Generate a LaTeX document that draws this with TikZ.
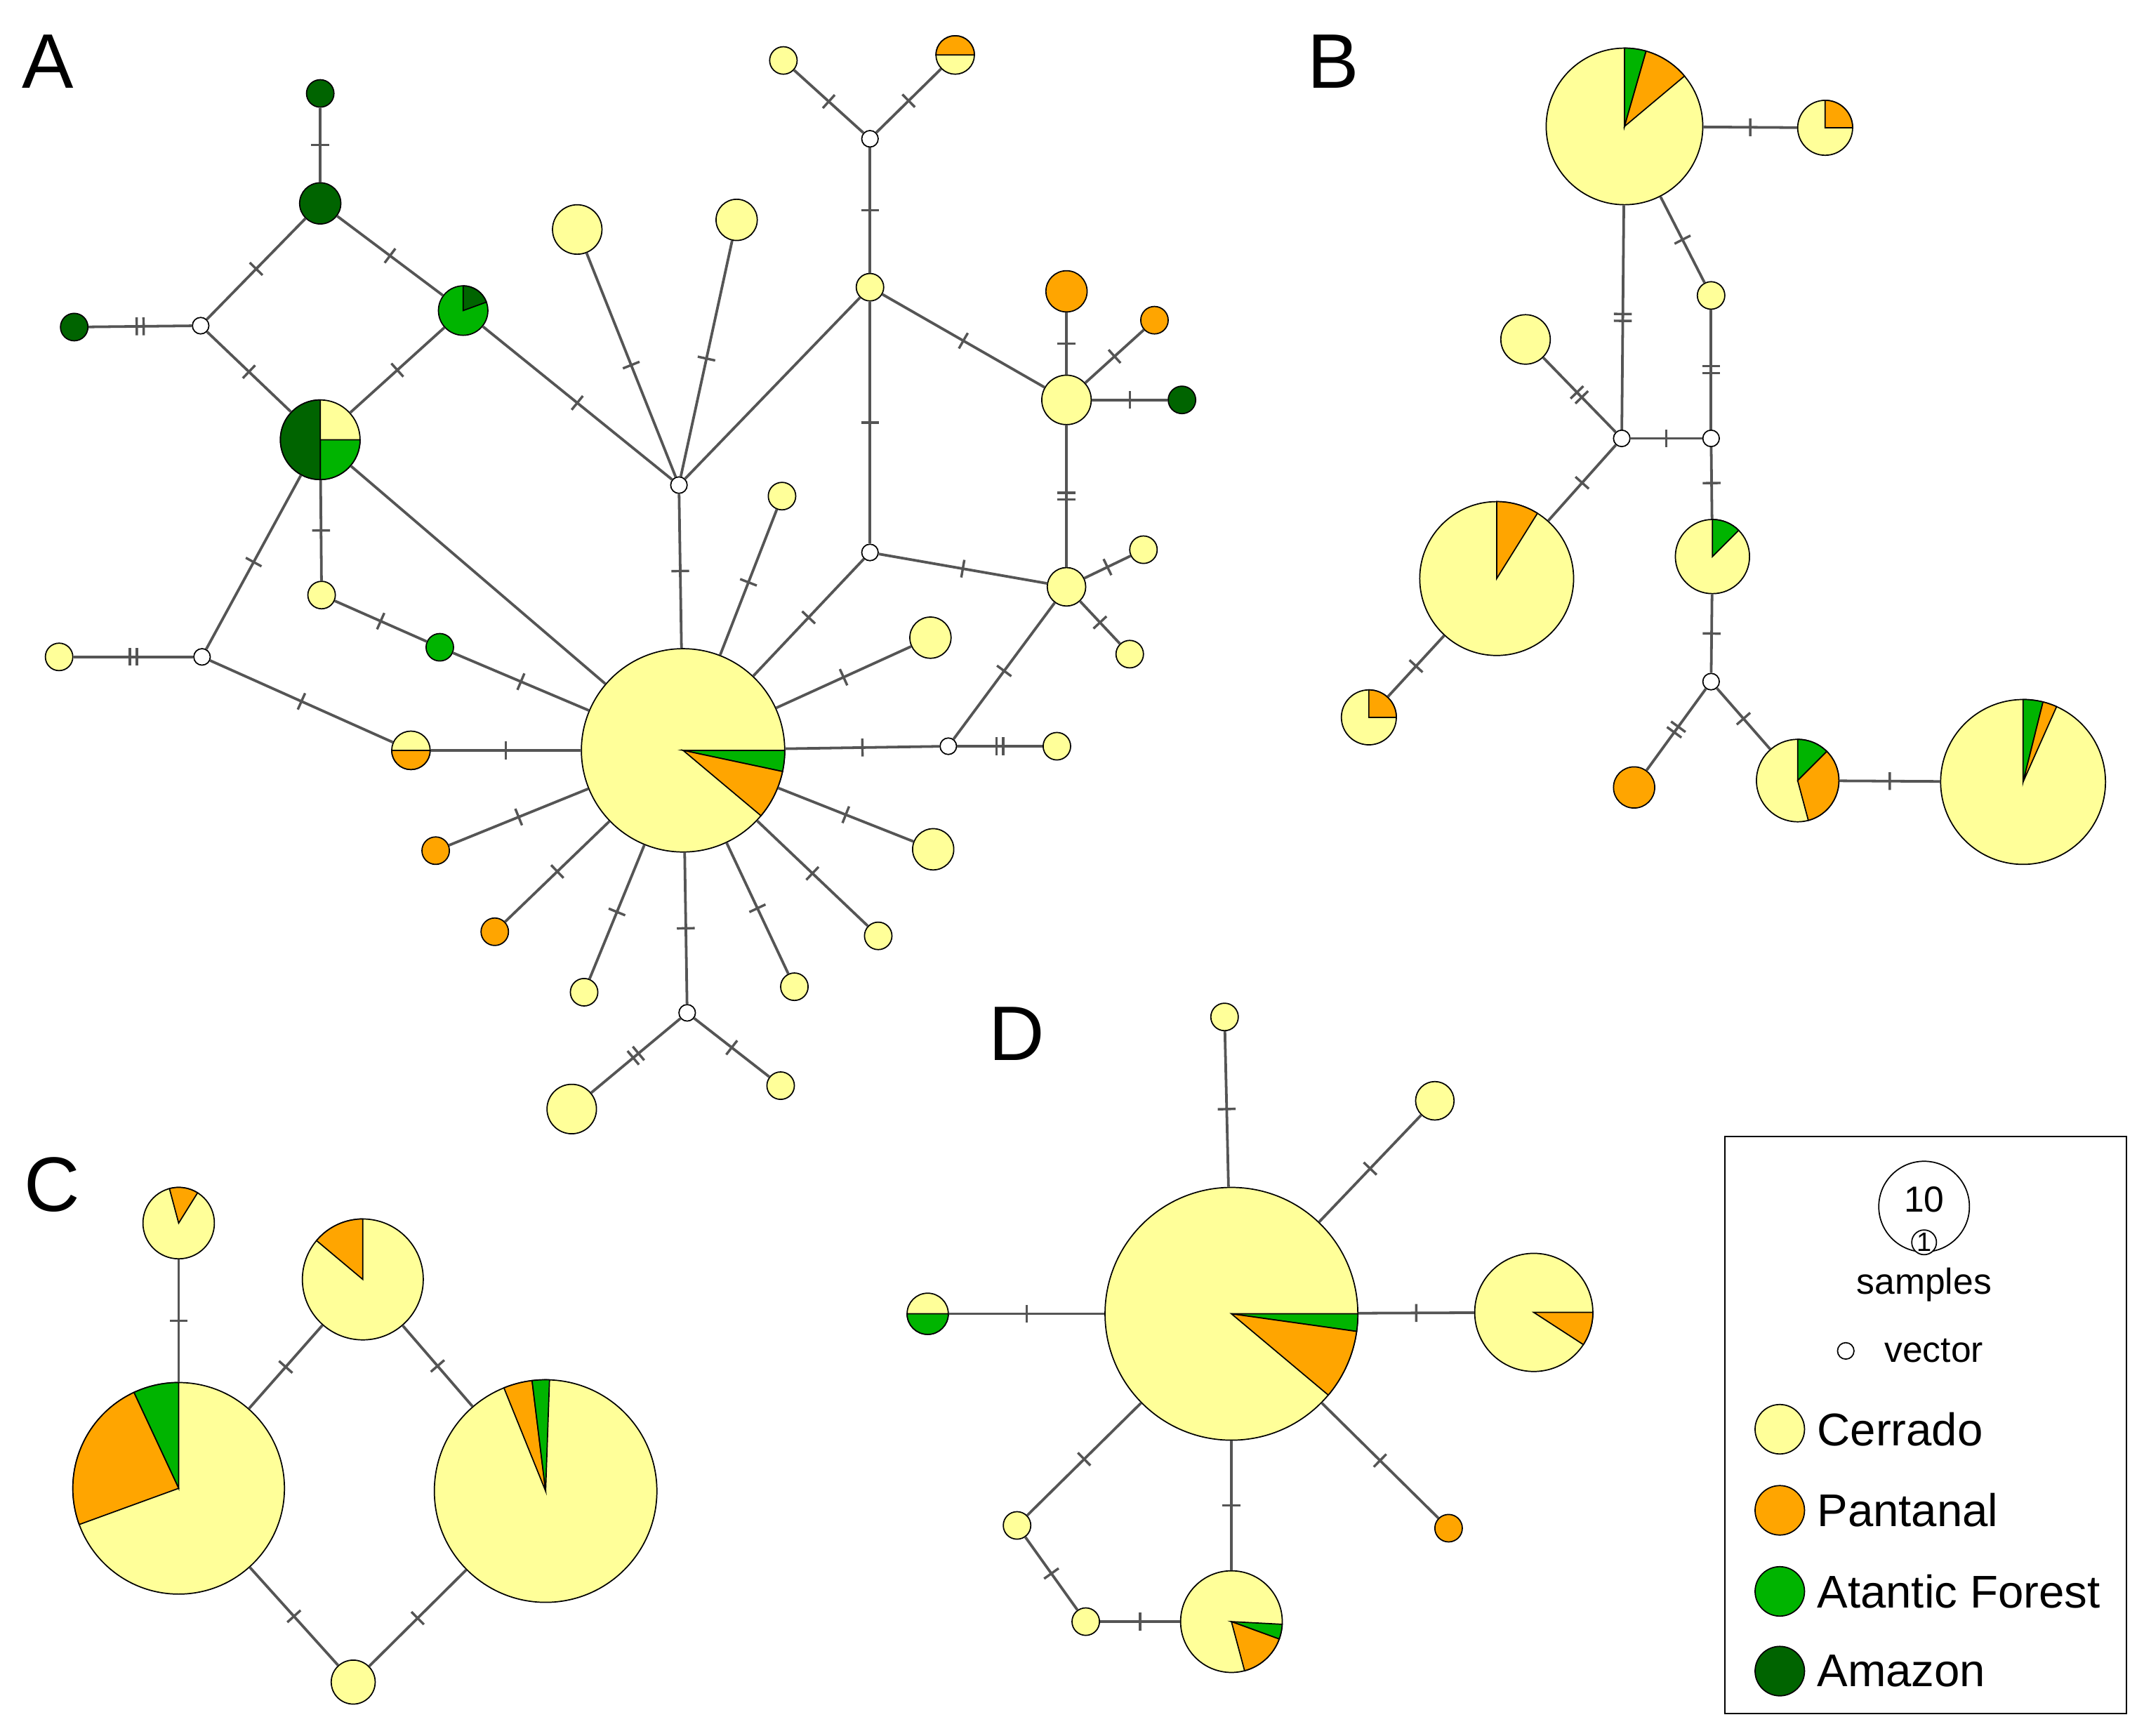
\documentclass[tikz,border=0pt]{standalone}
\usepackage{fontspec}
\setmainfont{Liberation Sans}
\usetikzlibrary{decorations.markings}
\definecolor{cer}{RGB}{255,255,153}
\definecolor{pan}{RGB}{255,165,0}
\definecolor{atl}{RGB}{0,180,0}
\definecolor{amz}{RGB}{0,100,0}
\definecolor{edgegray}{RGB}{85,85,85}
% wedge of a pie: node, radius, start, end, colour
\newcommand{\pieslice}[5]{\filldraw[#5,draw=black,line width=0.5pt] (#1.center) -- ++(#3:#2*0.02cm) arc[start angle=#3,end angle=#4,radius=#2*0.02cm] -- cycle;}
\begin{document}
\begin{tikzpicture}
[
	x = 0.02cm, y = 0.02cm,
	   hap/.style = { circle, draw=black, line width=0.5pt, fill=cer, inner sep=0pt, minimum size=#1*0.04cm },
	   hap/.default = 10,
	   vec/.style = { circle, draw=black, line width=0.5pt, fill=white, inner sep=0pt, minimum size=0.24cm },
	  link/.style = { draw=edgegray, line width=1.1pt },
	    m1/.style = { link, postaction={decorate}, decoration={markings, mark=at position 0.5 with {\draw[edgegray,line width=1pt] (0,-0.13cm) -- (0,0.13cm);}} },
	    m2/.style = { link, postaction={decorate}, decoration={markings, mark=at position 0.5 with {\draw[edgegray,line width=1pt] (-0.05cm,-0.13cm) -- (-0.05cm,0.13cm) (0.05cm,-0.13cm) -- (0.05cm,0.13cm);}} },
	 panel/.style = { font=\fontsize{32}{36}\selectfont },
	legtxt/.style = { font=\fontsize{19}{22}\selectfont, anchor=west }
]
	\useasboundingbox (0,0) rectangle (1560,-1263);

	% panel A
	% nodes
	\node[panel] (LA) at (35,-45) {A};
	\node[hap,fill=amz] (a1) at (233,-68) {};
	\node[hap=15,fill=amz] (a2) at (233,-148) {};
	\node[vec] (av1) at (146,-237) {};
	\node[hap,fill=amz] (a3) at (54,-238) {};
	\node[hap=18,fill=atl] (a4) at (337,-226) {};
	\node[hap=29] (a5) at (233,-320) {};
	\node[hap] (a6) at (234,-433) {};
	\node[hap,fill=atl] (a7) at (320,-471) {};
	\node[vec] (av2) at (147,-478) {};
	\node[hap] (a8) at (43,-478) {};
	\node[hap=14] (a9) at (299,-546) {};
	\node[hap=74] (ac) at (497,-546) {};
	\node[vec] (av3) at (494,-353) {};
	\node[hap=18] (a10) at (420,-167) {};
	\node[hap=15] (a11) at (536,-160) {};
	\node[vec] (av4) at (633,-101) {};
	\node[hap] (a12) at (570,-44) {};
	\node[hap=14] (a13) at (695,-40) {};
	\node[hap] (a14) at (633,-209) {};
	\node[vec] (av6) at (633,-402) {};
	\node[hap=18] (a15) at (776,-291) {};
	\node[hap=15,fill=pan] (a16) at (776,-212) {};
	\node[hap,fill=pan] (a17) at (840,-233) {};
	\node[hap,fill=amz] (a18) at (860,-291) {};
	\node[hap=14] (a19) at (776,-427) {};
	\node[hap] (a20) at (832,-400) {};
	\node[hap] (a21) at (822,-476) {};
	\node[vec] (av7) at (690,-543) {};
	\node[hap] (a22) at (769,-543) {};
	\node[hap] (a23) at (569,-361) {};
	\node[hap=15] (a24) at (677,-464) {};
	\node[hap=15] (a25) at (679,-618) {};
	\node[hap] (a26) at (639,-681) {};
	\node[hap] (a27) at (578,-718) {};
	\node[vec] (av8) at (500,-737) {};
	\node[hap] (a28) at (568,-790) {};
	\node[hap=18] (a29) at (416,-807) {};
	\node[hap] (a30) at (425,-722) {};
	\node[hap,fill=pan] (a31) at (360,-678) {};
	\node[hap,fill=pan] (a32) at (317,-619) {};

	% pies
	\pieslice{a4}{18}{90}{20}{amz}
	\pieslice{a5}{29}{0}{-90}{atl}
	\pieslice{a5}{29}{90}{270}{amz}
	\pieslice{a9}{14}{180}{360}{pan}
	\pieslice{ac}{74}{0}{-12}{atl}
	\pieslice{ac}{74}{-12}{-40}{pan}
	\pieslice{a13}{14}{0}{180}{pan}

	% edges
	\path (a1) edge[m1] (a2) (a2) edge[m1] (av1) (a2) edge[m1] (a4)
		(av1) edge[m2] (a3) (av1) edge[m1] (a5) (a4) edge[m1] (a5)
		(a4) edge[m1] (av3) (a5) edge[m1] (a6) (a5) edge[link] (ac)
		(a5) edge[m1] (av2) (av2) edge[m2] (a8) (av2) edge[m1] (a9)
		(a9) edge[m1] (ac) (a6) edge[m1] (a7) (a7) edge[m1] (ac)
		(av3) edge[m1] (a10) (av3) edge[m1] (a11) (av3) edge[link] (a14)
		(av3) edge[m1] (ac) (av4) edge[m1] (a12) (av4) edge[m1] (a13)
		(av4) edge[m1] (a14) (a14) edge[m1] (av6) (a14) edge[m1] (a15)
		(a15) edge[m1] (a16) (a15) edge[m1] (a17) (a15) edge[m1] (a18)
		(a15) edge[m2] (a19) (a19) edge[m1] (a20) (a19) edge[m1] (a21)
		(a19) edge[m1] (av7) (av6) edge[m1] (ac) (av6) edge[m1] (a19)
		(av7) edge[m1] (ac) (av7) edge[m2] (a22) (ac) edge[m1] (a23)
		(ac) edge[m1] (a24) (ac) edge[m1] (a25) (ac) edge[m1] (a26)
		(ac) edge[m1] (a27) (ac) edge[m1] (av8) (av8) edge[m1] (a28)
		(av8) edge[m2] (a29) (ac) edge[m1] (a30) (ac) edge[m1] (a31)
		(ac) edge[m1] (a32);

	% panel B
	% nodes
	\node[panel] (LB) at (970,-45) {B};
	\node[hap=57] (b1) at (1182,-92) {};
	\node[hap=20] (b2) at (1328,-93) {};
	\node[hap] (b3) at (1245,-215) {};
	\node[hap=18] (b4) at (1110,-247) {};
	\node[vec] (bv1) at (1180,-319) {};
	\node[vec] (bv2) at (1245,-319) {};
	\node[hap=56] (b5) at (1089,-421) {};
	\node[hap=27] (b6) at (1246,-405) {};
	\node[vec] (bv3) at (1245,-496) {};
	\node[hap=20] (b7) at (996,-522) {};
	\node[hap=15,fill=pan] (b8) at (1189,-573) {};
	\node[hap=30] (b9) at (1308,-568) {};
	\node[hap=60] (b10) at (1472,-569) {};

	% pies
	\pieslice{b1}{57}{90}{74}{atl}
	\pieslice{b1}{57}{74}{40}{pan}
	\pieslice{b2}{20}{90}{0}{pan}
	\pieslice{b5}{56}{90}{58}{pan}
	\pieslice{b6}{27}{90}{45}{atl}
	\pieslice{b7}{20}{90}{0}{pan}
	\pieslice{b9}{30}{90}{45}{atl}
	\pieslice{b9}{30}{45}{-75}{pan}
	\pieslice{b10}{60}{90}{76}{atl}
	\pieslice{b10}{60}{76}{66}{pan}

	% edges
	\path (b1) edge[m1] (b2) (b1) edge[m2] (bv1) (b1) edge[m1] (b3)
		(b3) edge[m2] (bv2) (b4) edge[m2] (bv1) (bv1) edge[m1] (bv2)
		(bv1) edge[m1] (b5) (b5) edge[m1] (b7) (bv2) edge[m1] (b6)
		(b6) edge[m1] (bv3) (bv3) edge[m2] (b8) (bv3) edge[m1] (b9)
		(b9) edge[m1] (b10);

	% panel C
	% nodes
	\node[panel] (LC) at (38,-862) {C};
	\node[hap=26] (c1) at (130,-890) {};
	\node[hap=44] (c2) at (264,-931) {};
	\node[hap=77] (c3) at (130,-1083) {};
	\node[hap=81] (c4) at (397,-1085) {};
	\node[hap=16] (c5) at (257,-1224) {};

	% pies
	\pieslice{c1}{26}{105}{58}{pan}
	\pieslice{c2}{44}{90}{140}{pan}
	\pieslice{c3}{77}{90}{115}{atl}
	\pieslice{c3}{77}{115}{200}{pan}
	\pieslice{c4}{81}{112}{97}{pan}
	\pieslice{c4}{81}{97}{88}{atl}

	% edges
	\path (c1) edge[m1] (c3) (c3) edge[m1] (c2) (c2) edge[m1] (c4)
		(c3) edge[m1] (c5) (c5) edge[m1] (c4);

	% panel D
	% nodes
	\node[panel] (LD) at (740,-752) {D};
	\node[hap=92] (dc) at (896,-956) {};
	\node[hap] (d1) at (891,-740) {};
	\node[hap=14] (d2) at (1044,-801) {};
	\node[hap=43] (d3) at (1116,-955) {};
	\node[hap,fill=pan] (d4) at (1054,-1112) {};
	\node[hap=37] (d5) at (896,-1180) {};
	\node[hap=15] (d6) at (675,-956) {};
	\node[hap] (d7) at (740,-1110) {};
	\node[hap] (d8) at (790,-1180) {};

	% pies
	\pieslice{dc}{92}{0}{-8}{atl}
	\pieslice{dc}{92}{-8}{-40}{pan}
	\pieslice{d3}{43}{0}{-33}{pan}
	\pieslice{d5}{37}{-3}{-20}{atl}
	\pieslice{d5}{37}{-20}{-75}{pan}
	\pieslice{d6}{15}{180}{360}{atl}

	% edges
	\path (dc) edge[m1] (d1) (dc) edge[m1] (d2) (dc) edge[m1] (d3)
		(dc) edge[m1] (d4) (dc) edge[m1] (d5) (dc) edge[m1] (d6)
		(dc) edge[m1] (d7) (d7) edge[m1] (d8) (d8) edge[m1] (d5);

	% legend
	\node[draw=black, line width=0.6pt, minimum width=292*0.02cm, minimum height=420*0.02cm, inner sep=0pt] (box) at (1401,-1037) {};
	\node[hap=33,fill=white,font=\fontsize{15}{17}\selectfont] (s10) at (1400,-878) {\raisebox{6pt}{10}};
	\node[hap=9,fill=white,font=\fontsize{11}{12}\selectfont] (s1) at (1400,-904) {1};
	\node[font=\fontsize{15}{18}\selectfont] (samp) at (1400,-935) {samples};
	\node[vec] (lv) at (1343,-983) {};
	\node[legtxt,font=\fontsize{15}{18}\selectfont] (lvt) at (1365,-983) {vector};
	\node[hap=18] (l1) at (1295,-1040) {};
	\node[hap=18,fill=pan] (l2) at (1295,-1099) {};
	\node[hap=18,fill=atl] (l3) at (1295,-1158) {};
	\node[hap=18,fill=amz] (l4) at (1295,-1216) {};
	\node[legtxt] (l1t) at (1316,-1040) {Cerrado};
	\node[legtxt] (l2t) at (1316,-1099) {Pantanal};
	\node[legtxt] (l3t) at (1316,-1158) {Atantic Forest};
	\node[legtxt] (l4t) at (1316,-1216) {Amazon};
\end{tikzpicture}
\end{document}
